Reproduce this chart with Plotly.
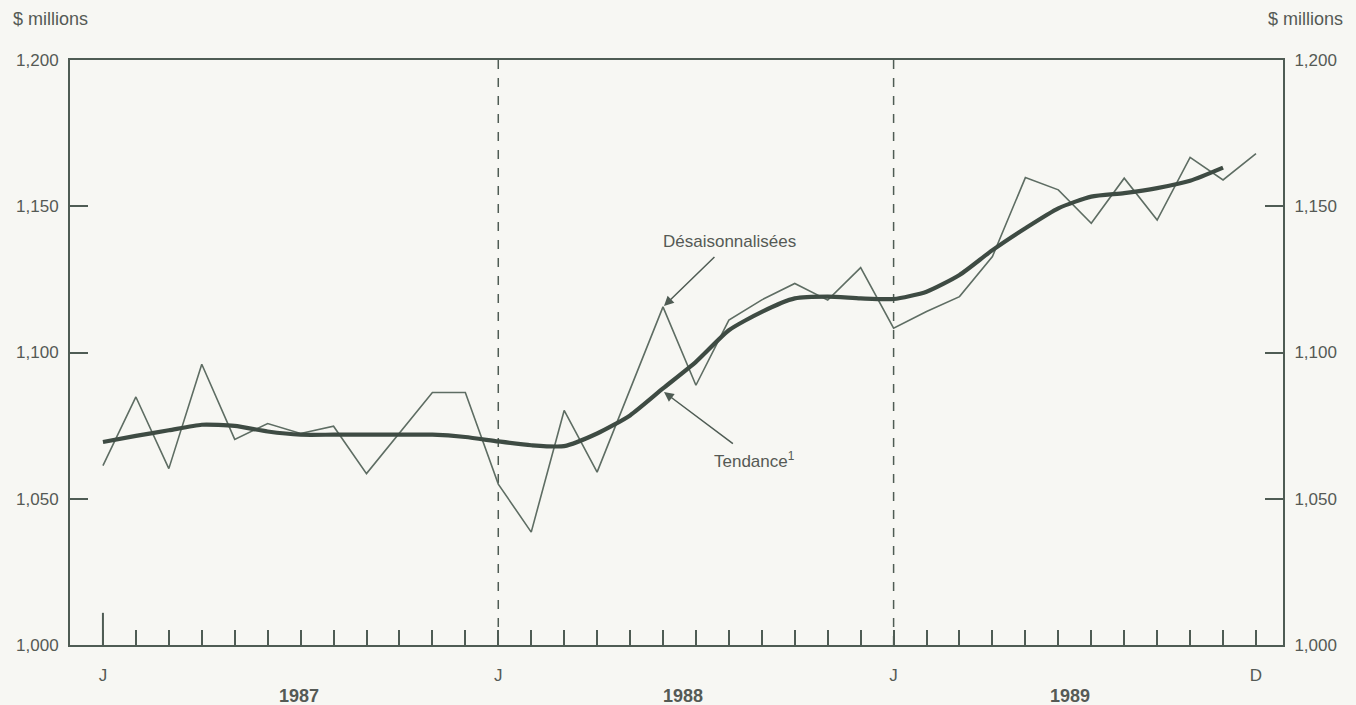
import plotly.graph_objects as go

# ---- data ----
months = list(range(36))  # 0 = Jan 1987 ... 35 = Dec 1989
seasonally_adjusted = [
    1061.3, 1084.8, 1060.3, 1096.0, 1070.3, 1075.7, 1072.3, 1074.8, 1058.6, 1072.5, 1086.3, 1086.3,
    1055.0, 1038.6, 1080.2, 1059.1, 1087.4, 1115.6, 1088.8, 1111.1, 1118.0, 1123.6, 1117.9, 1129.0,
    1108.3, 1114.0, 1119.1, 1132.8, 1159.8, 1155.6, 1144.2, 1159.6, 1145.3, 1166.7, 1159.0, 1168.0,
]
trend_months = list(range(35))
trend = [
    1069.4, 1071.5, 1073.4, 1075.3, 1074.9, 1073.0, 1071.9, 1071.9, 1071.9, 1071.9, 1071.9, 1071.1,
    1069.6, 1068.3, 1068.0, 1072.3, 1078.5, 1087.7, 1096.8, 1107.6, 1113.9, 1118.5, 1119.1, 1118.5,
    1118.3, 1120.8, 1126.5, 1135.0, 1142.5, 1149.3, 1153.3, 1154.5, 1156.2, 1158.7, 1163.2,
]
y_ticks = [1000, 1050, 1100, 1150, 1200]
y_tick_text = ["1,000", "1,050", "1,100", "1,150", "1,200"]
label_months = [0, 12, 24, 35]
label_text = ["J", "J", "J", "D"]
years = ["1987", "1988", "1989"]
year_pos = [5.95, 17.6, 29.35]

# ---- style ----
FONT = "Liberation Sans, Arial, Helvetica, sans-serif"
TXT = "#555a55"
AXC = "#4f5c54"
THIN = "#5e6d63"
THICK = "#3e4b43"
BG = "#f7f7f3"
FS = 17

fig = go.Figure()
fig.add_trace(go.Scatter(x=months, y=seasonally_adjusted, mode="lines",
                         line=dict(color=THIN, width=1.6), showlegend=False,
                         hoverinfo="skip"))
fig.add_trace(go.Scatter(x=trend_months, y=trend, mode="lines",
                         line=dict(color=THICK, width=4.2, shape="spline", smoothing=0.6),
                         showlegend=False, hoverinfo="skip"))
# invisible trace on right axis so it renders
fig.add_trace(go.Scatter(x=[months[0]], y=[trend[0]], yaxis="y2", mode="markers",
                         marker=dict(opacity=0), showlegend=False, hoverinfo="skip"))

fig.update_layout(
    width=1356, height=705,
    margin=dict(l=70, r=73, t=60, b=60),
    paper_bgcolor=BG, plot_bgcolor=BG,
    font=dict(family=FONT, size=FS, color=TXT),
    xaxis=dict(range=[-1.0, 35.82], tickvals=label_months, ticktext=label_text,
               ticks="inside", ticklen=15, tickwidth=2, tickcolor=AXC,
               minor=dict(tickvals=months, ticks="inside", ticklen=15, tickwidth=2,
                          tickcolor=AXC, showgrid=False),
               showline=True, linecolor=AXC, linewidth=2, mirror=True,
               showgrid=False, zeroline=False, ticklabelstandoff=14,
               tickfont=dict(size=FS, color=TXT)),
    yaxis=dict(range=[1000, 1200], tickvals=y_ticks, ticktext=y_tick_text,
               ticks="inside", ticklen=18, tickwidth=2, tickcolor=AXC,
               showline=True, linecolor=AXC, linewidth=2,
               showgrid=False, zeroline=False, ticklabelstandoff=6,
               tickfont=dict(size=FS, color=TXT)),
    yaxis2=dict(range=[1000, 1200], tickvals=y_ticks, ticktext=y_tick_text,
                overlaying="y", side="right",
                ticks="inside", ticklen=18, tickwidth=2, tickcolor=AXC,
                showline=True, linecolor=AXC, linewidth=2,
                showgrid=False, zeroline=False, ticklabelstandoff=6,
                tickfont=dict(size=FS, color=TXT)),
)

# dashed year separators
for xv in (12, 24):
    fig.add_shape(type="line", xref="x", yref="y", x0=xv, x1=xv, y0=1000, y1=1200,
                  line=dict(color=AXC, width=1.5, dash="dash"), layer="below")
# longer first tick
fig.add_shape(type="line", xref="x", yref="y", x0=0, x1=0, y0=1000, y1=1011,
              line=dict(color=AXC, width=2))

# year labels
for yr, xp in zip(years, year_pos):
    fig.add_annotation(x=xp, y=-0.088, xref="x", yref="paper", text=f"<b>{yr}</b>",
                       showarrow=False, yanchor="middle", font=dict(size=18, color=TXT))

# unit labels
fig.add_annotation(x=-0.049, y=1.07, xref="paper", yref="paper", text="$ millions",
                   showarrow=False, xanchor="left", yanchor="middle",
                   font=dict(size=18, color=TXT))
fig.add_annotation(x=1.051, y=1.07, xref="paper", yref="paper", text="$ millions",
                   showarrow=False, xanchor="right", yanchor="middle",
                   font=dict(size=18, color=TXT))

# series annotations with arrows
fig.add_annotation(x=17.03, y=1115.9, ax=19.03, ay=1137.8, xref="x", yref="y",
                   axref="x", ayref="y", text="Désaisonnalisées", showarrow=True,
                   arrowhead=2, arrowsize=1.3, arrowwidth=1.5, arrowcolor=AXC,
                   borderpad=5, font=dict(size=FS, color=TXT))
fig.add_annotation(x=17.03, y=1086.5, ax=19.79, ay=1063.2, xref="x", yref="y",
                   axref="x", ayref="y", text="Tendance<sup>1</sup>", showarrow=True,
                   arrowhead=2, arrowsize=1.3, arrowwidth=1.5, arrowcolor=AXC,
                   borderpad=5, font=dict(size=FS, color=TXT))

fig.write_html("out.html", config={"displayModeBar": False},
               post_script="document.body.style.margin='0';")
